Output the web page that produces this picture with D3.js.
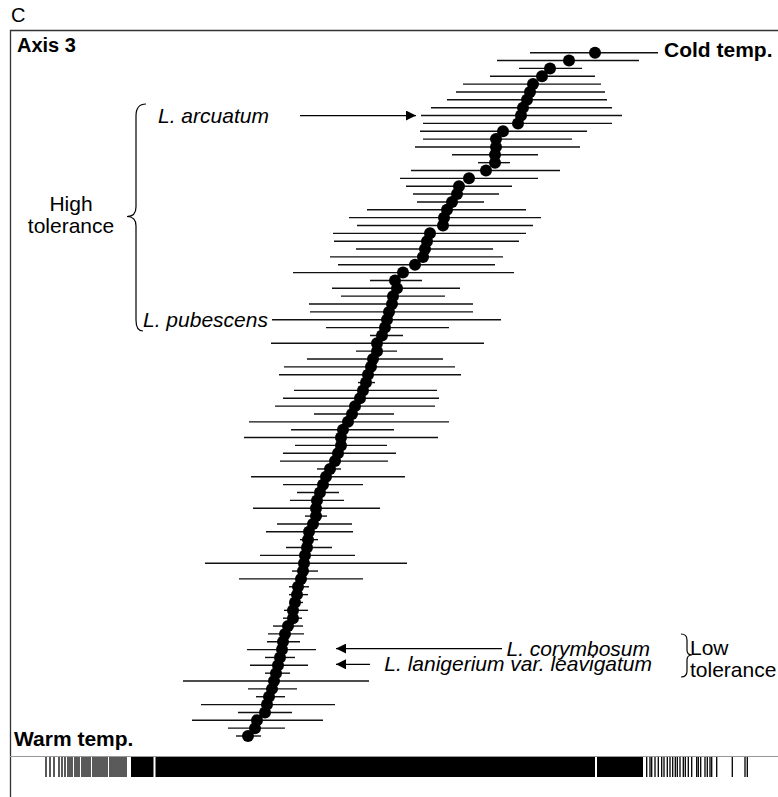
<!DOCTYPE html>
<html>
<head>
<meta charset="utf-8">
<script src="https://cdn.jsdelivr.net/npm/d3@7"></script>
<style>
  body { margin: 0; background: #fff; }
  text { font-family: Arial, "Liberation Sans", sans-serif; fill: #000; }
</style>
</head>
<body>
<div id="canvas"></div>
<script>
// species tolerance along axis 3, listed top (cold) to bottom (warm)
const ciLow = [0.68, 0.515, 0.625, 0.48, 0.345, 0.31, 0.265, 0.185, 0.135, 0.145,
  0.13, 0.145, 0.105, 0.29, 0.42, 0.085, 0.03, 0.06, 0.095, 0.115,
  -0.135, -0.225, -0.185, -0.305, -0.3, -0.19, -0.32, -0.28, -0.505, -0.12,
  -0.31, -0.265, -0.425, -0.42, -0.6, -0.34, -0.12, -0.615, -0.19, -0.435,
  -0.55, -0.575, -0.18, -0.5, -0.555, -0.595, -0.4, -0.725, -0.515, -0.75,
  -0.495, -0.555, -0.57, -0.385, -0.715, -0.555, -0.485, -0.52, -0.705, -0.445,
  -0.585, -0.64, -0.47, -0.54, -0.67, -0.945, -0.51, -0.775, -0.525, -0.525,
  -0.52, -0.55, -0.555, -0.605, -0.63, -0.635, -0.735, -0.645, -0.72, -0.645,
  -1.055, -0.73, -0.69, -0.965, -0.78, -1.01, -0.83, -0.79];
const score = [1.005, 0.875, 0.78, 0.74, 0.695, 0.68, 0.665, 0.645, 0.635, 0.62,
  0.545, 0.51, 0.51, 0.505, 0.505, 0.46, 0.375, 0.325, 0.315, 0.29,
  0.265, 0.25, 0.245, 0.18, 0.165, 0.155, 0.145, 0.105, 0.045, 0.005,
  0.015, -0.005, -0.01, -0.025, -0.035, -0.045, -0.06, -0.085, -0.085, -0.105,
  -0.115, -0.13, -0.14, -0.155, -0.17, -0.195, -0.21, -0.23, -0.255, -0.265,
  -0.265, -0.28, -0.295, -0.32, -0.34, -0.355, -0.37, -0.385, -0.39, -0.39,
  -0.405, -0.425, -0.43, -0.435, -0.445, -0.45, -0.455, -0.465, -0.48, -0.485,
  -0.495, -0.505, -0.505, -0.53, -0.545, -0.555, -0.56, -0.57, -0.58, -0.59,
  -0.6, -0.61, -0.625, -0.635, -0.645, -0.685, -0.695, -0.73];
const ciHigh = [1.32, 1.225, 0.94, 1.005, 1.035, 1.055, 1.065, 1.09, 1.14, 1.09,
  0.965, 0.89, 0.93, 0.72, 0.58, 0.83, 0.72, 0.59, 0.525, 0.45,
  0.66, 0.735, 0.695, 0.66, 0.625, 0.495, 0.545, 0.505, 0.6, 0.14,
  0.33, 0.255, 0.395, 0.395, 0.535, 0.275, 0.045, 0.45, 0.015, 0.245,
  0.305, 0.335, -0.095, 0.215, 0.225, 0.205, 0, 0.275, 0, 0.22,
  -0.035, 0.01, -0.03, -0.265, 0.055, -0.155, -0.275, -0.25, -0.07, -0.335,
  -0.21, -0.205, -0.38, -0.31, -0.195, 0.065, -0.38, -0.155, -0.425, -0.43,
  -0.455, -0.43, -0.46, -0.455, -0.45, -0.47, -0.39, -0.495, -0.43, -0.52,
  -0.125, -0.485, -0.545, -0.295, -0.51, -0.355, -0.545, -0.665];

// site scores shown as the rug under the plot
const rugTicks = [-1.74, -1.72, -1.70, -1.675, -1.66, -1.645, -1.63, -1.62, -1.61, -1.595,
  -1.585, -1.575, -1.56, -1.55, -1.54, -1.53, -1.52, -1.505, -1.495, -1.485,
  -1.475, -1.465, -1.455, -1.445, -1.435, -1.42, -1.41, -1.40, -1.39, -1.38,
  -1.37, -1.36, -1.35, -1.34,
  1.2635, 1.28, 1.2885, 1.305, 1.3215, 1.3385, 1.35, 1.3665, 1.38, 1.3935,
  1.4065, 1.4165, 1.43, 1.4465, 1.4565, 1.4715, 1.4885, 1.5135, 1.5215, 1.5335,
  1.555, 1.5665, 1.58, 1.5885, 1.6135, 1.6915, 1.755, 1.7665];
const rugBlocks = [[-1.315, -1.2025], [-1.1925, 1.005], [1.015, 1.245]];

const labelled = [
  { row: 8, name: "L. arcuatum" },
  { row: 34, name: "L. pubescens" },
  { row: 76, name: "L. corymbosum" },
  { row: 78, name: "L. lanigerium var. leavigatum" }
];

const width = 778;
const height = 797;

const svg = d3.select("#canvas")
    .append("svg")
    .attr("width", width)
    .attr("height", height);

const x = d3.scaleLinear().domain([-1.92, 1.92]).range([10, 778]);
const y = d3.scalePoint().domain(d3.range(score.length)).range([52.7, 736]);

// frame
svg.append("line").attr("x1", 10).attr("x2", 778).attr("y1", 30.5).attr("y2", 30.5)
    .attr("stroke", "#333").attr("stroke-width", 1.3);
svg.append("line").attr("x1", 10.5).attr("x2", 10.5).attr("y1", 30).attr("y2", 797)
    .attr("stroke", "#333").attr("stroke-width", 1.3);
svg.append("line").attr("x1", 10).attr("x2", 778).attr("y1", 756.5).attr("y2", 756.5)
    .attr("stroke", "#999").attr("stroke-width", 1);

svg.append("text").attr("x", 11).attr("y", 22).attr("font-size", 20).text("C");

// tolerance ranges
svg.append("g").selectAll("line")
    .data(score)
    .join("line")
    .attr("x1", (d, i) => x(ciLow[i]))
    .attr("x2", (d, i) => x(ciHigh[i]))
    .attr("y1", (d, i) => y(i))
    .attr("y2", (d, i) => y(i))
    .attr("stroke", "#111")
    .attr("stroke-width", 1.4);

svg.append("g").selectAll("circle")
    .data(score)
    .join("circle")
    .attr("cx", d => x(d))
    .attr("cy", (d, i) => y(i))
    .attr("r", 6)
    .attr("fill", "#000");

// rug
const rug = svg.append("g");
rug.selectAll("rect")
    .data(rugBlocks)
    .join("rect")
    .attr("x", d => x(d[0]))
    .attr("width", d => x(d[1]) - x(d[0]))
    .attr("y", 757)
    .attr("height", 20)
    .attr("fill", "#000");
rug.selectAll("line")
    .data(rugTicks)
    .join("line")
    .attr("x1", d => x(d)).attr("x2", d => x(d))
    .attr("y1", 757).attr("y2", 777)
    .attr("stroke", "#000").attr("stroke-width", 1.3);

// axis end labels
svg.append("text").attr("x", 17).attr("y", 52).attr("font-size", 20).attr("font-weight", "bold").text("Axis 3");
svg.append("text").attr("x", 664).attr("y", 57).attr("font-size", 21).attr("font-weight", "bold").text("Cold temp.");
svg.append("text").attr("x", 14).attr("y", 746).attr("font-size", 21).attr("font-weight", "bold").text("Warm temp.");

// arrowhead
svg.append("defs").append("marker")
    .attr("id", "head")
    .attr("viewBox", "0 0 10 10")
    .attr("refX", 10).attr("refY", 5)
    .attr("markerWidth", 10).attr("markerHeight", 10)
    .attr("markerUnits", "userSpaceOnUse")
    .attr("orient", "auto")
    .append("path").attr("d", "M0,0L10,5L0,10Z").attr("fill", "#000");

const ital = svg.append("g").attr("font-size", 21).attr("font-style", "italic");

// high tolerance side
const arc = labelled[0], pub = labelled[1];
ital.append("text").attr("x", 158).attr("y", y(arc.row) + 7).text(arc.name);
svg.append("line").attr("x1", 300).attr("x2", x(ciLow[arc.row]) - 5)
    .attr("y1", y(arc.row)).attr("y2", y(arc.row))
    .attr("stroke", "#000").attr("stroke-width", 1.3).attr("marker-end", "url(#head)");
ital.append("text").attr("x", 143).attr("y", y(pub.row) + 7).text(pub.name);
svg.append("line").attr("x1", 272).attr("x2", x(ciLow[pub.row]))
    .attr("y1", y(pub.row)).attr("y2", y(pub.row))
    .attr("stroke", "#111").attr("stroke-width", 1.4);

svg.append("path")
    .attr("d", "M146,104 Q136,104 136,116 L136,207 Q136,216.5 127,216.5 Q136,216.5 136,226 L136,320 Q136,331 143,331")
    .attr("fill", "none").attr("stroke", "#000").attr("stroke-width", 1.2);
svg.append("text").attr("x", 71).attr("y", 211).attr("font-size", 21).attr("text-anchor", "middle").text("High");
svg.append("text").attr("x", 71).attr("y", 233).attr("font-size", 21).attr("text-anchor", "middle").text("tolerance");

// low tolerance side
const cor = labelled[2], lan = labelled[3];
ital.append("text").attr("x", 650).attr("y", y(cor.row) + 6).attr("text-anchor", "end").text(cor.name);
ital.append("text").attr("x", 652).attr("y", y(lan.row) + 6).attr("text-anchor", "end").text(lan.name);
svg.append("line").attr("x1", 502).attr("x2", 336)
    .attr("y1", y(cor.row) - 1).attr("y2", y(cor.row) - 1)
    .attr("stroke", "#000").attr("stroke-width", 1.3).attr("marker-end", "url(#head)");
svg.append("line").attr("x1", 370).attr("x2", 336)
    .attr("y1", y(lan.row) - 1).attr("y2", y(lan.row) - 1)
    .attr("stroke", "#000").attr("stroke-width", 1.3).attr("marker-end", "url(#head)");

svg.append("path")
    .attr("d", "M681,634 Q687,634 687,640 L687,650 Q687,655 692,655 Q687,655 687,660 L687,671 Q687,677 681,677")
    .attr("fill", "none").attr("stroke", "#000").attr("stroke-width", 1.2);
svg.append("text").attr("x", 690).attr("y", 655).attr("font-size", 21).text("Low");
svg.append("text").attr("x", 690).attr("y", 677).attr("font-size", 21).text("tolerance");
</script>
</body>
</html>
